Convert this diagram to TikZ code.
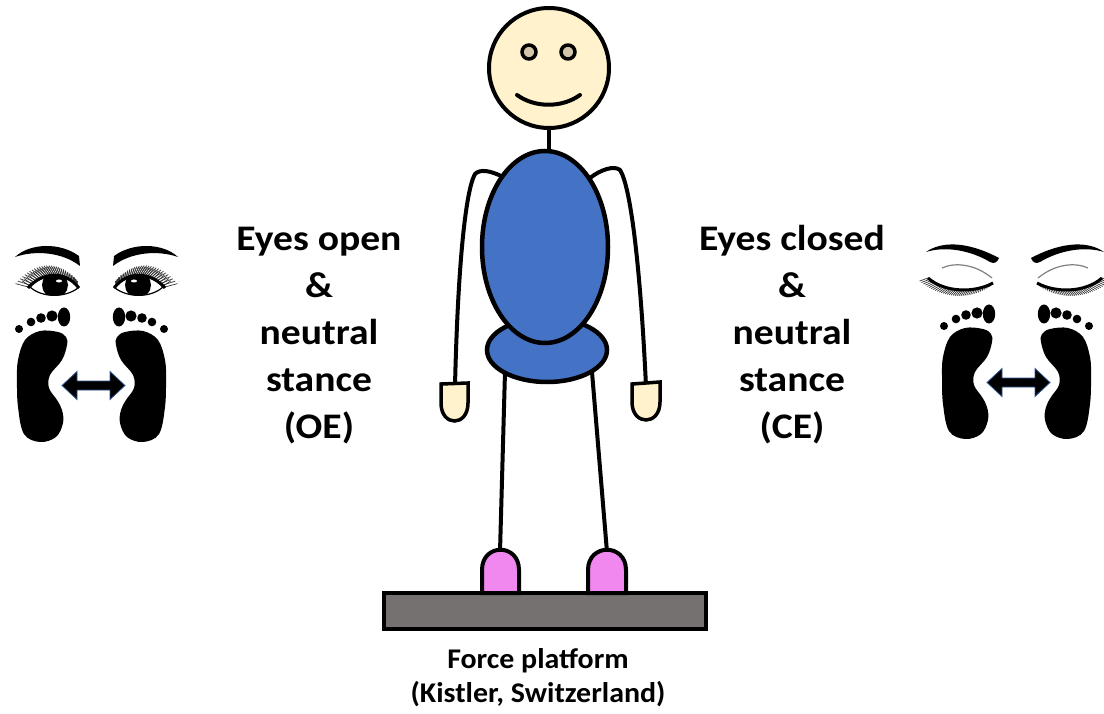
\documentclass[tikz,border=0pt]{standalone}
\usepackage{fontspec}
\setmainfont{Carlito}
\newfontfamily\stagefont[FakeStretch=1.1]{Carlito}
\newfontfamily\platefont[FakeStretch=1.05]{Carlito}
\usetikzlibrary{shapes.geometric}

\definecolor{skin}{RGB}{255,242,204}
\definecolor{shirt}{RGB}{68,114,196}
\definecolor{shoe}{RGB}{240,136,240}
\definecolor{plate}{RGB}{118,113,113}
\definecolor{iris}{RGB}{212,198,170}
\definecolor{arrowrim}{RGB}{47,85,151}

\begin{document}
\begin{tikzpicture}[x=1pt, y=-1pt]
    \tikzset{part/.style = {draw, line width=4.5pt, inner sep=0pt},
             limb/.style = {draw, line width=4pt, line cap=round},
             stagetext/.style = {align=center, font=\stagefont\bfseries\fontsize{36}{47}\selectfont},
             lash/.style = {line width=0.7pt, black!80},
             feet/.pic = {
                 % toes and soles, right foot mirrored
                 \foreach \m/\s in {0/1, 183/-1} {
                     \begin{scope}[shift={(\m,0)}, xscale=\s]
                         \fill (19,329) circle (4);
                         \fill (31,322) circle (4.3);
                         \fill (41,318) circle (4.8);
                         \fill (52,316) circle (5.6);
                         \fill (64,317) ellipse [x radius=6.2, y radius=9.5];
                         \fill plot[smooth cycle, tension=0.6] coordinates {
                             (40,331) (58,332) (66,337) (67,345) (62,360) (50,375) (49,388)
                             (57,400) (62,410) (63,423) (56,437) (40,442) (24,434) (18,407)
                             (17,380) (18,360) (25,340)};
                     \end{scope}
                 }
                 % double arrow between the feet
                 \filldraw[draw=arrowrim, line width=0.8pt]
                     (62,385.5) -- (77,371.5) -- (77,381) -- (110,381) -- (110,371.5) -- (125,385.5)
                     -- (110,399.5) -- (110,390) -- (77,390) -- (77,399.5) -- cycle;
             }
            }
    \useasboundingbox (0,0) rectangle (1104,714);

    % legs and arms sit behind the body
    \coordinate (lhip) at (505,372);
    \coordinate (rhip) at (592,372);
    \coordinate (lankle) at (500,552);
    \coordinate (rankle) at (607,552);
    \draw[limb] (lhip) -- (lankle);
    \draw[limb] (rhip) -- (rankle);
    \draw[limb] (505,178) .. controls (490,170) and (480,169) .. (475,174)
                .. controls (466,190) and (458,260) .. (455,386);
    \draw[limb] (590,178) .. controls (600,170) and (614,165) .. (620,170)
                .. controls (630,185) and (640,260) .. (646,386);

    \node[part, ellipse, fill=shirt, minimum width=120pt, minimum height=64pt] (hips) at (547,350) {};
    \node[part, ellipse, fill=shirt, minimum width=126pt, minimum height=192pt] (torso) at (545,247) {};

    % head
    \node[part, circle, fill=skin, line width=4pt, minimum size=120pt] (head) at (549,68) {};
    \draw[limb] (head.south) -- (head.south |- torso.north);
    \filldraw[fill=iris, line width=3.5pt] (529,52) circle (7);
    \filldraw[fill=iris, line width=3.5pt] (568,52) circle (7);
    \draw[limb] (517,95) .. controls (535,108) and (562,108) .. (580,95);

    % hands
    \filldraw[fill=skin, line width=3.5pt] (441,384) -- (441,403) .. controls (441,427) and (468,427)
        .. (468,403) -- (468,383) -- cycle;
    \filldraw[fill=skin, line width=3.5pt] (632,384) -- (632,402) .. controls (632,426) and (660,426)
        .. (660,402) -- (660,382) -- cycle;

    % platform and shoes
    \node[part, rectangle, fill=plate, minimum width=322pt, minimum height=36pt] (platform) at (545,611) {};
    \filldraw[fill=shoe, line width=4pt] (482,593) -- (482,570) .. controls (482,543) and (519,543)
        .. (519,570) -- (519,593) -- cycle;
    \filldraw[fill=shoe, line width=4pt] (588,593) -- (588,570) .. controls (588,543) and (626,543)
        .. (626,570) -- (626,593) -- cycle;
    \node[align=center, font=\platefont\bfseries\fontsize{28.5}{34}\selectfont, anchor=base] (kistler) at (538,702)
        {Force platform\\(Kistler, Switzerland)};

    % conditions
    \node[stagetext, anchor=base] (oe) at (319,438) {Eyes open\\\&\\neutral\\stance\\(OE)};
    \node[stagetext, anchor=base] (ce) at (792,438) {Eyes closed\\\&\\neutral\\stance\\(CE)};

    % open eyes, right one mirrored
    \foreach \m/\s in {0/1, 193/-1} {
        \begin{scope}[shift={(\m,0)}, xscale=\s]
            \fill (15,257) .. controls (30,243) and (60,242) .. (79,256) -- (80,266)
                .. controls (62,252) and (35,250) .. (15,257) -- cycle;
            \foreach \i in {0,...,26} {
                \draw[lash] ({30+46*\i/26},{287.5-50*(\i/26)*(1-\i/26)}) -- ++({-(165-80*\i/26)}:{15-7*\i/26});
                \draw[lash] ({31+46*\i/26},{287-50*(\i/26)*(1-\i/26)}) -- ++({-(145-60*\i/26)}:{11-5*\i/26});
            }
            \filldraw[fill=white, line width=1.2pt] (30,287) .. controls (42,272) and (65,270) .. (78,288)
                .. controls (65,298) and (42,298) .. (30,287) -- cycle;
            \begin{scope}
                \clip (30,287) .. controls (42,272) and (65,270) .. (78,288)
                    .. controls (65,298) and (42,298) .. (30,287) -- cycle;
                \fill (55,285) circle (13);
            \end{scope}
            \fill[white] (59,281) ellipse [x radius=3, y radius=1.5];
            \draw[line width=3pt] (28,288) .. controls (42,272) and (65,270) .. (79,288);
        \end{scope}
    }

    % closed eyes, right one mirrored
    \foreach \m/\s in {0/1, 2030/-1} {
        \begin{scope}[shift={(\m,0)}, xscale=\s]
            \fill (926,252) .. controls (940,242) and (965,240) .. (999,258)
                .. controls (997,263) and (994,264) .. (990,262)
                .. controls (970,250) and (945,246) .. (926,252) -- cycle;
            \draw[gray, line width=1.2pt] (942,268) .. controls (955,262) and (975,264) .. (992,278);
            \foreach \i in {0,...,36} {
                \draw[lash] ({928+62*\i/36},{278+5*\i/36+40*(\i/36)*(1-\i/36)}) -- ++({160-65*\i/36}:{9-5*\i/36});
            }
            \draw[line width=3pt] (928,278) .. controls (945,293) and (975,293) .. (993,283);
        \end{scope}
    }

    % feet below the eyes
    \pic (openfeet) at (0,0) {feet};
    \pic (closedfeet) at (925,-3) {feet};
\end{tikzpicture}
\end{document}
